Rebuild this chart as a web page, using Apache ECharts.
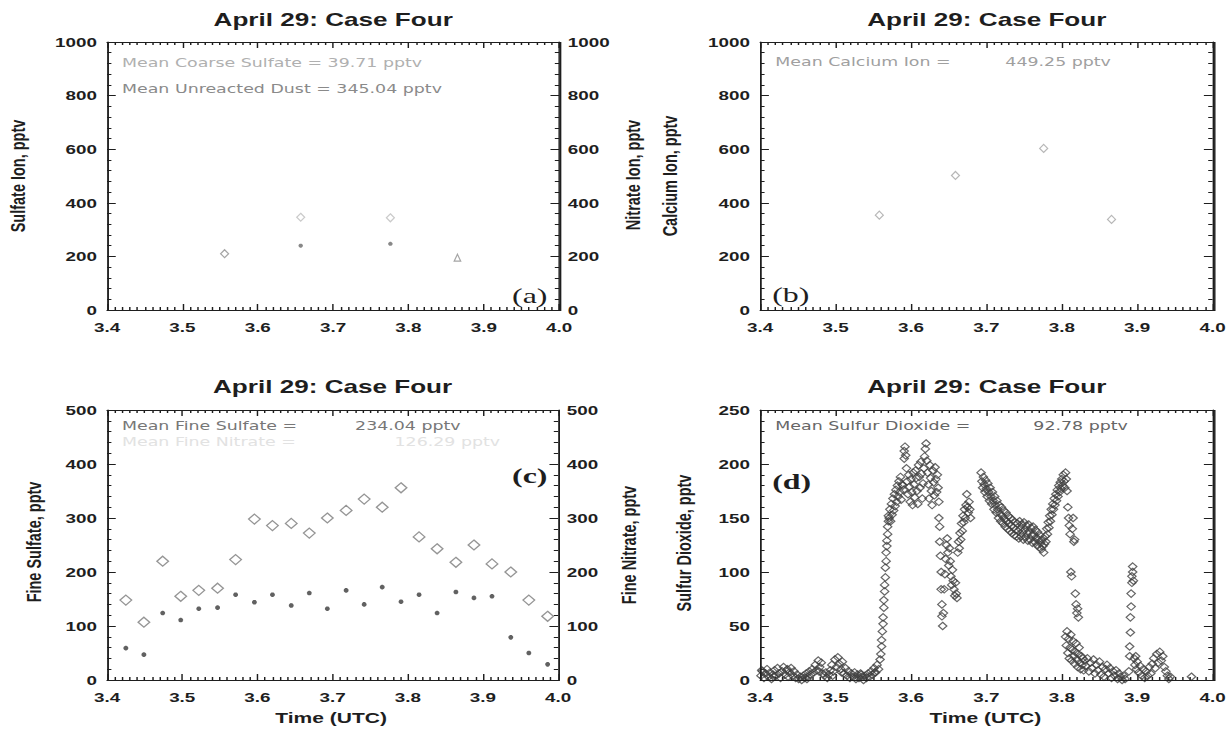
<!DOCTYPE html>
<html>
<head>
<meta charset="utf-8">
<script src="https://cdn.jsdelivr.net/npm/echarts@6/dist/echarts.min.js"></script>
<style>
  html, body { margin: 0; padding: 0; background: #fff; }
  #page { position: absolute; left: 0; top: 0; width: 1230px; height: 729px; overflow: hidden; background: #fff; }
  /* the figure is laid out on a narrower sheet and widened, like the printed page */
  #chart { width: 848px; height: 729px; transform: scaleX(1.4505); transform-origin: 0 0; }
</style>
</head>
<body>
<div id="page"><div id="chart"></div></div>
<script>
// ---------- time axis ----------
const timeTicks = [3.4, 3.5, 3.6, 3.7, 3.8, 3.9, 4.0];

// ---------- (a) coarse ions ----------
const coarseSulfate = [[3.657, 240], [3.776, 247]];
const unreactedDust = [[3.657, 346], [3.776, 344.08]];
const coarseNitrateEarly = [[3.556, 210]];
const coarseNitrateLate = [[3.865, 195]];

// ---------- (b) calcium ----------
const calciumTime = [3.558, 3.659, 3.776, 3.866];
const calciumIon = [354, 502, 603, 338];

// ---------- (c) fine aerosol ----------
const fineTime = [3.425, 3.449, 3.474, 3.498, 3.522, 3.547, 3.571, 3.596, 3.620, 3.645, 3.669, 3.693,
                  3.718, 3.742, 3.766, 3.791, 3.815, 3.839, 3.864, 3.888, 3.912, 3.937, 3.961, 3.986];
const fineSulfate = [148, 107, 220, 155, 166, 170, 223, 298, 286, 290, 272, 300,
                     314, 335, 320, 356, 265, 243, 218, 250, 215, 200, 148, 118];
const fineNitrate = [59, 47, 124, 111, 132, 134, 158, 144, 158, 138, 161, 132,
                     166, 140, 172, 145, 158, 124, 163, 152, 155, 79, 50, 29];

// ---------- (d) sulfur dioxide, [time, pptv] ----------
const so2Background = [
  [3.401,4],[3.402,9],[3.403,8],[3.405,2],[3.407,6],[3.409,10],[3.411,3],[3.413,7],[3.415,1],[3.417,5],[3.418,3],[3.419,9],
  [3.421,4],[3.423,11],[3.425,6],[3.427,2],[3.429,8],[3.431,12],[3.433,5],[3.435,9],[3.436,10],[3.437,3],[3.439,7],
  [3.441,11],[3.443,4],[3.445,8],[3.447,2],[3.449,5],[3.451,1],[3.453,3],[3.455,0],[3.457,4],[3.459,2],
  [3.461,6],[3.462,1],[3.463,3],[3.465,8],[3.467,5],[3.469,10],[3.471,7],[3.473,14],[3.475,9],[3.477,18],[3.478,8],[3.479,12],
  [3.481,16],[3.483,6],[3.485,4],[3.487,7],[3.489,2],[3.491,5],[3.493,9],[3.495,14],[3.496,4],[3.497,8],[3.499,19],
  [3.501,12],[3.503,21],[3.505,15],[3.507,10],[3.508,7],[3.509,17],[3.511,6],[3.513,11],[3.515,4],[3.517,8],[3.519,2],
  [3.521,6],[3.523,3],[3.525,7],[3.527,1],[3.529,5],[3.531,2],[3.533,6],[3.534,5],[3.535,3],[3.537,0],[3.539,4],
  [3.541,2],[3.543,6],[3.545,3],[3.547,8],[3.549,5],[3.551,11],[3.552,7],[3.553,7],[3.555,14],[3.557,10],[3.559,19]
];
const so2Rise = [
  [3.560,24],[3.561,31],[3.561,37],[3.562,45],[3.563,52],[3.563,58],[3.564,67],[3.564,74],[3.565,82],[3.565,88],
  [3.566,95],[3.566,104],[3.567,110],[3.567,118],[3.568,124],[3.568,129],[3.569,135],[3.569,142],[3.570,147],[3.570,152]
];
const so2FirstPeak = [
  [3.571,150],[3.572,158],[3.573,147],[3.574,163],[3.575,153],[3.576,168],[3.577,157],[3.578,172],[3.579,161],[3.580,176],
  [3.581,165],[3.582,180],[3.583,170],[3.584,184],[3.585,174],[3.586,188],[3.587,167],[3.588,181],[3.589,180],[3.590,176],
  [3.591,205],[3.591,212],[3.592,216],[3.593,208],[3.594,196],[3.595,184],[3.596,172],[3.597,190],[3.598,179],[3.599,165],
  [3.600,186],[3.601,174],[3.602,162],[3.603,192],[3.604,181],[3.605,169],[3.606,194],[3.607,187],[3.608,175],[3.609,163],
  [3.610,199],[3.611,188],[3.612,178],[3.613,202],[3.614,191],[3.615,168],[3.616,182],[3.617,196],[3.618,207],[3.619,214],
  [3.620,219],[3.621,203],[3.622,192],[3.623,181],[3.624,168],[3.625,199],[3.626,187],[3.627,175],[3.628,162],[3.629,194],
  [3.630,183],[3.631,171],[3.632,197],[3.633,186],[3.634,174],[3.635,190],[3.636,178],[3.637,165]
];
const so2Dip = [
  [3.637,150],[3.638,142],[3.638,128],[3.639,115],[3.640,100],[3.640,84],[3.641,70],[3.641,59],[3.642,50],[3.643,62],
  [3.644,84],[3.645,98],[3.646,112],[3.647,125],[3.648,131],[3.649,118],[3.650,106],[3.651,122],[3.652,110],[3.653,96],
  [3.654,88],[3.655,102],[3.656,92],[3.657,84],[3.658,78],[3.659,90],[3.660,80],[3.661,76],[3.662,118],[3.663,128],
  [3.664,122],[3.665,136],[3.666,130],[3.667,145],[3.668,138],[3.669,152],[3.670,146],[3.671,158],[3.672,150],[3.673,162],
  [3.674,172],[3.675,160],[3.676,155],[3.677,165],[3.678,158],[3.679,150]
];
const so2Plateau = [
  [3.693,192],[3.694,184],[3.695,178],[3.696,188],[3.697,181],[3.698,174],[3.699,185],[3.700,177],[3.701,170],[3.702,182],
  [3.703,174],[3.704,166],[3.705,178],[3.706,170],[3.707,163],[3.708,174],[3.709,166],[3.710,158],[3.711,170],[3.712,162],
  [3.713,155],[3.714,166],[3.715,158],[3.716,150],[3.717,162],[3.718,154],[3.719,147],[3.720,160],[3.721,152],[3.722,145],
  [3.723,157],[3.724,149],[3.725,142],[3.726,155],[3.727,147],[3.728,140],[3.729,152],[3.730,145],[3.731,138],[3.732,150],
  [3.733,143],[3.734,136],[3.735,148],[3.736,141],[3.737,134],[3.738,146],[3.739,139],[3.740,133],[3.741,145],[3.742,138],
  [3.743,131],[3.744,147],[3.745,140],[3.746,133],[3.747,144],[3.748,137],[3.749,130],[3.750,146],[3.751,139],[3.752,132],
  [3.753,143],[3.754,136],[3.755,129],[3.756,144],[3.757,137],[3.758,130],[3.759,141],[3.760,134],[3.761,127],[3.762,142],
  [3.763,135],[3.764,128],[3.765,139],[3.766,132],[3.767,125],[3.768,137],[3.769,130],[3.770,123],[3.771,134],[3.772,127],
  [3.773,121],[3.774,130],[3.775,124],[3.776,118]
];
const so2Recovery = [
  [3.777,126],[3.778,133],[3.779,128],[3.780,140],[3.781,135],[3.782,146],[3.783,141],[3.784,152],[3.785,147],[3.786,158],
  [3.787,153],[3.788,163],[3.789,158],[3.790,168],[3.791,162],[3.792,172],[3.793,166],[3.794,176],[3.795,170],[3.796,180],
  [3.797,174],[3.798,183],[3.799,177],[3.800,186],[3.801,180],[3.802,190],[3.803,184],[3.804,178],[3.805,192],[3.806,186]
];
const so2Fall = [
  [3.807,175],[3.808,160],[3.809,150],[3.810,143],[3.811,135],[3.812,100],[3.813,96],[3.814,140],[3.815,150],[3.816,128],
  [3.817,130],[3.818,80],[3.819,70],[3.820,62],[3.821,66],[3.822,58],
  [3.805,40],[3.806,32],[3.807,45],[3.808,25],[3.809,38],[3.810,20],[3.811,30],[3.812,42],[3.813,18],[3.814,28],
  [3.815,36],[3.816,22],[3.817,15],[3.818,26],[3.819,34],[3.820,19],[3.821,12],[3.822,24],[3.823,30],[3.824,16],
  [3.825,10],[3.826,22],[3.827,14],[3.828,20],[3.829,9]
];
const so2Tail = [
  [3.830,18],[3.832,13],[3.834,20],[3.836,8],[3.838,16],[3.840,11],[3.842,19],[3.844,6],[3.846,14],[3.848,9],
  [3.850,17],[3.852,5],[3.854,12],[3.856,3],[3.858,10],[3.860,14],[3.862,6],[3.864,11],[3.866,2],[3.868,8],
  [3.870,4],[3.872,9],[3.874,1],[3.876,6],[3.878,3],[3.880,0],[3.882,4],[3.884,1]
];
const so2Spike = [
  [3.889,8],[3.890,22],[3.890,31],[3.891,44],[3.891,58],[3.892,68],[3.892,80],[3.893,90],[3.893,96],[3.894,100],
  [3.894,105],[3.895,92]
];
const so2Late = [
  [3.896,20],[3.897,14],[3.898,22],[3.899,10],[3.900,17],[3.902,7],[3.904,13],[3.906,4],[3.908,10],[3.910,2],
  [3.912,8],[3.914,4],[3.916,12],[3.918,6],[3.920,15],[3.922,20],[3.924,11],[3.926,24],[3.928,16],[3.930,26],
  [3.932,18],[3.934,22],[3.936,12],[3.938,8],[3.940,4],[3.942,1],[3.944,3],[3.972,3]
];

// ---------- annotations ----------
const titleText = 'April 29: Case Four';
const meanCoarseSulfate = 'Mean Coarse Sulfate = 39.71 pptv';
const meanDust = 'Mean Unreacted Dust = 345.04 pptv';
const meanCalcium = ['Mean Calcium Ion =', '449.25 pptv'];
const meanFineSulfate = ['Mean Fine Sulfate =', '234.04 pptv'];
const meanSO2 = ['Mean Sulfur Dioxide =', '92.78 pptv'];

// ---------- assembly ----------
const so2All = [].concat(so2Background, so2Rise, so2FirstPeak, so2Dip, so2Plateau, so2Recovery,
                         so2Fall, so2Tail, so2Spike, so2Late);
const mean = arr => arr.reduce((s, v) => s + v, 0) / arr.length;
const meanFineNitrate = ['Mean Fine Nitrate =', mean(fineNitrate).toFixed(2) + ' pptv'];
const pair = (xs, ys) => xs.map((x, i) => [x, ys[i]]);

const INK = '#1e1e1e';
const BOLD = 'Liberation Sans, Arial, Helvetica, sans-serif';

// plot boxes on the sheet (before widening)
const boxes = [
  { left: 73.8,  top: 42,  width: 311.7, height: 268, yMax: 1000, yStep: 200, rightLabels: true },
  { left: 524.1, top: 42,  width: 312.4, height: 268, yMax: 1000, yStep: 200, rightLabels: false },
  { left: 73.8,  top: 410, width: 311.0, height: 270, yMax: 500,  yStep: 100, rightLabels: true },
  { left: 524.1, top: 410, width: 312.4, height: 270, yMax: 250,  yStep: 50,  rightLabels: false }
];
const grid = boxes.map(b => ({ left: b.left, top: b.top, width: b.width, height: b.height }));

const tickLabel = () => ({ color: INK, fontFamily: BOLD, fontWeight: 'bold', fontSize: 13 });
const frameLine = () => ({ show: true, onZero: false, lineStyle: { color: INK, width: 1, type: 'solid' } });
const ticks = () => ({ show: true, inside: true, length: 6, lineStyle: { color: INK, width: 1 } });
const minor = n => ({ show: true, splitNumber: n, length: 3, lineStyle: { color: INK, width: 1 } });

const xAxis = [];
const yAxis = [];
boxes.forEach((b, i) => {
  ['bottom', 'top'].forEach(pos => xAxis.push({
    type: 'value', gridIndex: i, position: pos,
    min: timeTicks[0], max: timeTicks[timeTicks.length - 1], interval: 0.1,
    axisLine: frameLine(), axisTick: ticks(), minorTick: minor(10), splitLine: { show: false },
    axisLabel: pos === 'bottom'
      ? Object.assign({ show: true, margin: 11, formatter: v => v.toFixed(1) }, tickLabel())
      : { show: false }
  }));
  ['left', 'right'].forEach(pos => yAxis.push({
    type: 'value', gridIndex: i, position: pos, min: 0, max: b.yMax, interval: b.yStep,
    axisLine: frameLine(), axisTick: ticks(), minorTick: minor(5), splitLine: { show: false },
    axisLabel: (pos === 'left' || b.rightLabels)
      ? Object.assign({ show: true, margin: pos === 'left' ? 7 : 6, formatter: v => String(v) }, tickLabel())
      : { show: false }
  }));
});

const asterisk = 'path://M5,0L5,10M0,5L10,5M1.5,1.5L8.5,8.5M8.5,1.5L1.5,8.5';
function marks(panel, data, symbol, size, stroke, width) {
  return {
    type: 'scatter', xAxisIndex: panel * 2, yAxisIndex: panel * 2, data,
    symbol, symbolSize: size, silent: true, clip: false,
    itemStyle: { color: 'rgba(0,0,0,0)', borderColor: stroke, borderWidth: width }
  };
}

const series = [
  marks(0, coarseNitrateEarly, 'diamond', [5.5, 8], '#8f8f8f', 1),
  marks(0, coarseNitrateLate, 'triangle', [4.5, 7], '#8f8f8f', 1),
  marks(0, unreactedDust, 'diamond', [5.5, 8], '#bdbdbd', 1),
  marks(0, coarseSulfate, asterisk, [3, 4], '#6a6a6a', 1.2),
  marks(1, pair(calciumTime, calciumIon), 'diamond', [5.5, 8], '#a5a5a5', 1),
  marks(2, pair(fineTime, fineSulfate), 'diamond', [8, 10], '#7a7a7a', 1.1),
  marks(2, pair(fineTime, fineNitrate), asterisk, [3.3, 4.6], '#3a3a3a', 1.3),
  marks(3, so2All, 'diamond', [5.8, 7.5], '#404040', 1)
];

// free text: titles, axis names, statistics, panel letters
function txt(x, y, text, font, color, align, rotation) {
  return {
    type: 'text', x, y, rotation: rotation || 0, silent: true,
    style: { text, font, fill: color, align: align || 'left', verticalAlign: 'middle' }
  };
}
// plot frame drawn on the same pixel grid as the axis lines
function frame(b) {
  const x0 = Math.round(b.left), x1 = Math.round(b.left + b.width);
  const y0 = Math.round(b.top), y1 = Math.round(b.top + b.height);
  return {
    type: 'rect', silent: true, z: 5,
    shape: { x: x0 + 0.5, y: y0 + 0.5, width: x1 - x0, height: y1 - y0 },
    style: { fill: 'none', stroke: INK, lineWidth: 1 }
  };
}
const titleFont = 'bold 18px ' + BOLD;
const nameFont = 'bold 14.5px ' + BOLD;
const statFont = '12px DejaVu Sans, sans-serif';
const letterFont = '22px Liberation Serif, serif';
const letterBold = 'bold 22px Liberation Serif, serif';
const UP = Math.PI / 2;

const graphic = boxes.map(frame).concat([
  txt(229.7, 20, titleText, titleFont, INK, 'center'),
  txt(680.3, 20, titleText, titleFont, INK, 'center'),
  txt(229.3, 387, titleText, titleFont, INK, 'center'),
  txt(680.3, 387, titleText, titleFont, INK, 'center'),

  txt(12.4, 176, 'Sulfate Ion, pptv', nameFont, INK, 'center', UP),
  txt(436.6, 175, 'Nitrate Ion, pptv', nameFont, INK, 'center', UP),
  txt(462.0, 176, 'Calcium Ion, pptv', nameFont, INK, 'center', UP),
  txt(23.4, 542, 'Fine Sulfate, pptv', nameFont, INK, 'center', UP),
  txt(433.8, 545, 'Fine Nitrate, pptv', nameFont, INK, 'center', UP),
  txt(471.7, 543, 'Sulfur Dioxide, pptv', nameFont, INK, 'center', UP),
  txt(228.3, 718, 'Time (UTC)', nameFont, INK, 'center'),
  txt(679.3, 718, 'Time (UTC)', nameFont, INK, 'center'),

  txt(84.1, 63, meanCoarseSulfate, statFont, '#b0b0b0'),
  txt(84.1, 89, meanDust, statFont, '#8a8a8a'),
  txt(534.5, 62, meanCalcium[0], statFont, '#a0a0a0'),
  txt(693.1, 62, meanCalcium[1], statFont, '#a0a0a0'),
  txt(84.1, 426, meanFineSulfate[0], statFont, '#777777'),
  txt(244.8, 426, meanFineSulfate[1], statFont, '#777777'),
  txt(84.1, 442, meanFineNitrate[0], statFont, '#e2e2e2'),
  txt(272.0, 442, meanFineNitrate[1], statFont, '#e2e2e2'),
  txt(534.5, 426, meanSO2[0], statFont, '#666666'),
  txt(712.4, 426, meanSO2[1], statFont, '#666666'),

  txt(353.0, 296, '(a)', letterFont, INK),
  txt(532.4, 295, '(b)', letterFont, INK),
  txt(353.0, 476, '(c)', letterBold, INK),
  txt(532.4, 482, '(d)', letterBold, INK)
]);

const chart = echarts.init(document.getElementById('chart'), null, { renderer: 'svg', width: 848, height: 729 });
chart.setOption({ animation: false, grid, xAxis, yAxis, series, graphic });
</script>
</body>
</html>
